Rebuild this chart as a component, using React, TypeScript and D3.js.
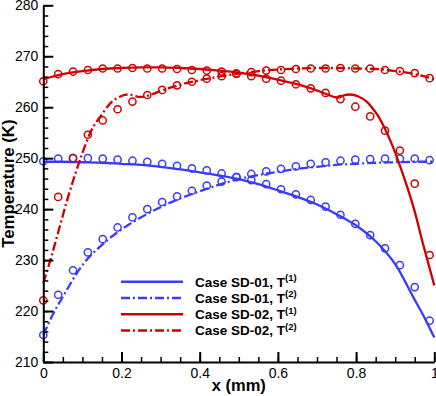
import * as d3 from "d3";
import { useEffect, useRef } from "react";

// circle symbols (same x positions for all four series)
const symbolX = [0, 0.038, 0.076, 0.114, 0.152, 0.19, 0.228, 0.266, 0.304, 0.342, 0.38, 0.418, 0.456, 0.494, 0.532, 0.57, 0.608, 0.646, 0.684, 0.722, 0.76, 0.798, 0.836, 0.874, 0.912, 0.95, 0.988];
const sd01T1Pts = [249.4, 249.9, 250.0, 250.0, 249.9, 249.7, 249.5, 249.3, 248.9, 248.5, 248.0, 247.6, 247.0, 246.3, 245.7, 244.9, 243.9, 242.9, 241.8, 240.5, 238.9, 237.1, 234.9, 232.3, 229.0, 224.7, 218.1];
const sd01T2Pts = [215.3, 223.2, 228.0, 231.5, 234.1, 236.4, 238.4, 240.0, 241.4, 242.5, 243.6, 244.6, 245.4, 246.3, 246.9, 247.4, 247.9, 248.4, 248.9, 249.2, 249.5, 249.7, 249.8, 249.9, 249.9, 249.9, 249.6];
const sd02T1Pts = [265.1, 266.5, 267.0, 267.3, 267.6, 267.6, 267.7, 267.6, 267.6, 267.5, 267.3, 267.2, 267.0, 266.6, 266.1, 265.6, 265.2, 264.5, 263.7, 262.8, 261.6, 260.1, 258.2, 255.4, 251.5, 245.0, 231.0];
const sd02T2Pts = [222.1, 242.4, 250.0, 254.6, 257.4, 259.6, 261.1, 262.4, 263.4, 264.3, 265.0, 265.6, 266.1, 266.6, 266.9, 267.2, 267.3, 267.5, 267.6, 267.6, 267.7, 267.6, 267.6, 267.3, 267.1, 266.7, 265.7];

// lines
const sd01T1LineX = [0, 0.05, 0.1, 0.15, 0.2, 0.25, 0.3, 0.35, 0.4, 0.45, 0.5, 0.55, 0.6, 0.65, 0.7, 0.75, 0.8, 0.85, 0.9, 0.95, 0.975, 1];
const sd01T1Line = [249.3, 249.3, 249.2, 249.1, 248.9, 248.7, 248.3, 247.8, 247.2, 246.6, 245.9, 244.9, 243.7, 242.4, 240.9, 239.0, 236.8, 233.7, 229.2, 222.2, 218.7, 214.8];
const sd01T2LineX = [0, 0.025, 0.05, 0.1, 0.15, 0.2, 0.25, 0.3, 0.35, 0.4, 0.45, 0.5, 0.55, 0.6, 0.65, 0.7, 0.75, 0.8, 0.85, 0.9, 0.95, 1];
const sd01T2Line = [215.3, 219.4, 222.8, 229.0, 233.0, 236.0, 238.4, 240.4, 242.1, 243.5, 244.8, 245.9, 246.7, 247.3, 247.9, 248.3, 248.7, 248.9, 249.1, 249.2, 249.3, 249.3];
const sd02T1LineX = [0, 0.05, 0.1, 0.15, 0.2, 0.25, 0.3, 0.35, 0.4, 0.45, 0.5, 0.55, 0.6, 0.656, 0.685, 0.72, 0.745, 0.755, 0.767, 0.785, 0.806, 0.827, 0.84, 0.857, 0.875, 0.89, 0.91, 0.93, 0.95, 0.97, 1];
const sd02T1Line = [265.5, 266.5, 267.1, 267.5, 267.7, 267.8, 267.8, 267.7, 267.5, 267.2, 266.8, 266.2, 265.4, 264.4, 263.7, 262.7, 262.0, 261.9, 262.3, 262.5, 262.1, 261.1, 260.0, 258.2, 255.6, 253.0, 249.0, 244.5, 239.5, 233.5, 225.0];
const sd02T2LineX = [0, 0.02, 0.04, 0.06, 0.08, 0.1, 0.12, 0.15, 0.173, 0.194, 0.215, 0.233, 0.245, 0.26, 0.28, 0.3, 0.35, 0.4, 0.45, 0.5, 0.55, 0.6, 0.65, 0.7, 0.75, 0.8, 0.85, 0.9, 0.95, 1];
const sd02T2Line = [225.5, 230.5, 236.0, 241.5, 246.5, 251.0, 255.0, 258.6, 260.9, 262.0, 262.5, 262.3, 262.0, 262.1, 262.6, 263.2, 264.4, 265.3, 266.0, 266.6, 267.1, 267.4, 267.6, 267.7, 267.7, 267.6, 267.5, 267.1, 266.5, 265.5];

const xTicks = [0, 0.2, 0.4, 0.6, 0.8, 1];
const yTicks = [210, 220, 230, 240, 250, 260, 270, 280];

const legendCases = ["Case SD-01", "Case SD-01", "Case SD-02", "Case SD-02"];
const legendSups = ["(1)", "(2)", "(1)", "(2)"];

const BLUE = "#3a3aff";
const RED = "#d00000";
const DASHDOT = "9,3,2,3";
const FONT = "'Liberation Sans', Arial, sans-serif";

export default function App() {
  const ref = useRef<SVGSVGElement>(null);

  useEffect(() => {
    drawChart();
  }, []);

  function drawChart() {
    const svg = d3.select(ref.current);
    svg.selectAll("*").remove();

    const width = 436;
    const height = 396;
    const margin = { top: 5.3, right: 1.7, bottom: 34, left: 43.3 };

    const x = d3.scaleLinear().domain([0, 1]).range([margin.left, width - margin.right]);
    const y = d3.scaleLinear().domain([210, 280]).range([height - margin.bottom, margin.top]);

    const series = [
      { lx: sd01T1LineX, ly: sd01T1Line, pts: sd01T1Pts, color: BLUE, dash: null },
      { lx: sd01T2LineX, ly: sd01T2Line, pts: sd01T2Pts, color: BLUE, dash: DASHDOT },
      { lx: sd02T1LineX, ly: sd02T1Line, pts: sd02T1Pts, color: RED, dash: null },
      { lx: sd02T2LineX, ly: sd02T2Line, pts: sd02T2Pts, color: RED, dash: DASHDOT },
    ];

    const line = d3.line<[number, number]>()
      .x((d) => x(d[0]))
      .y((d) => y(d[1]))
      .curve(d3.curveMonotoneX);

    series.forEach((s) => {
      svg.append("path")
        .datum(s.lx.map((v, i) => [v, s.ly[i]] as [number, number]))
        .attr("d", line)
        .attr("fill", "none")
        .attr("stroke", s.color)
        .attr("stroke-width", 2.3)
        .attr("stroke-dasharray", s.dash);

      svg.append("g")
        .selectAll("circle")
        .data(s.pts)
        .join("circle")
        .attr("cx", (d, i) => x(symbolX[i]))
        .attr("cy", (d) => y(d))
        .attr("r", 3.6)
        .attr("fill", "none")
        .attr("stroke", s.color)
        .attr("stroke-width", 1.5);
    });

    // minor ticks
    svg.append("g")
      .attr("transform", `translate(${margin.left},0)`)
      .call(d3.axisLeft(y).tickValues(d3.range(210, 281, 2)).tickSize(-5).tickFormat(() => ""))
      .call((g) => g.select(".domain").remove())
      .call((g) => g.selectAll("line").attr("stroke-width", 1.5));
    svg.append("g")
      .attr("transform", `translate(0,${height - margin.bottom})`)
      .call(d3.axisBottom(x).tickValues(d3.range(0, 1.001, 0.05)).tickSize(-5).tickFormat(() => ""))
      .call((g) => g.select(".domain").remove())
      .call((g) => g.selectAll("line").attr("stroke-width", 1.5));

    // major axes
    const yAxis = svg.append("g")
      .attr("transform", `translate(${margin.left},0)`)
      .call(d3.axisLeft(y).tickValues(yTicks).tickSizeInner(-10).tickSizeOuter(0).tickPadding(5).tickFormat((d) => String(d)));
    const xAxis = svg.append("g")
      .attr("transform", `translate(0,${height - margin.bottom})`)
      .call(d3.axisBottom(x).tickValues(xTicks).tickSizeInner(-10).tickSizeOuter(0).tickPadding(6).tickFormat((d) => String(d)));

    [yAxis, xAxis].forEach((g) => {
      g.select(".domain").attr("stroke", "#000").attr("stroke-width", 2);
      g.selectAll("line").attr("stroke", "#000").attr("stroke-width", 2);
      g.selectAll("text")
        .style("font-family", FONT)
        .style("font-size", "14px")
        .attr("fill", "#000");
    });

    // axis titles
    svg.append("text")
      .attr("x", (x(0) + x(1)) / 2)
      .attr("y", 391)
      .attr("text-anchor", "middle")
      .style("font-family", FONT)
      .style("font-size", "16.5px")
      .style("font-weight", "700")
      .text("x (mm)");

    svg.append("text")
      .attr("transform", `translate(14,${(y(210) + y(280)) / 2}) rotate(-90)`)
      .attr("text-anchor", "middle")
      .style("font-family", FONT)
      .style("font-size", "16.8px")
      .style("font-weight", "700")
      .text("Temperature (K)");

    // legend
    const legend = svg.append("g");
    series.forEach((s, i) => {
      const ly = 281.7 + i * 16.3;
      legend.append("line")
        .attr("x1", 121)
        .attr("x2", 183)
        .attr("y1", ly)
        .attr("y2", ly)
        .attr("stroke", s.color)
        .attr("stroke-width", 2.5)
        .attr("stroke-dasharray", s.dash);

      const t = legend.append("text")
        .attr("x", 195)
        .attr("y", ly + 4.8)
        .style("font-family", FONT)
        .style("font-size", "13.5px")
        .style("font-weight", "700");
      t.append("tspan").text(`${legendCases[i]}, T`);
      t.append("tspan")
        .attr("dy", -5.5)
        .style("font-size", "9.5px")
        .text(legendSups[i]);
    });
  }

  return (
    <>
      <style>{"body{margin:0}"}</style>
      <svg ref={ref} width={436} height={396} style={{ display: "block", background: "#fff" }} />
    </>
  );
}
